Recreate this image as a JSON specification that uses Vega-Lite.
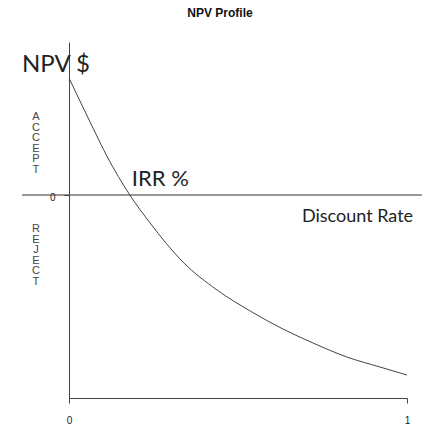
{
  "$schema": "https://vega.github.io/schema/vega-lite/v6.json",
  "width": 338,
  "height": 356,
  "autosize": "none",
  "padding": {"left": 69, "top": 42, "right": 18, "bottom": 34},
  "background": "white",
  "title": {"text": "NPV Profile", "font": "Liberation Sans", "fontSize": 12, "fontWeight": "bold", "color": "#111", "anchor": "middle", "dx": -18, "offset": 22},
  "config": {"view": {"stroke": null}},
  "datasets": {
    "curve": [
      {"rate": 0.0, "npv": 117},
      {"rate": 0.071, "npv": 67},
      {"rate": 0.112, "npv": 39},
      {"rate": 0.18, "npv": 0},
      {"rate": 0.24, "npv": -28},
      {"rate": 0.337, "npv": -67},
      {"rate": 0.438, "npv": -95},
      {"rate": 0.536, "npv": -116},
      {"rate": 0.633, "npv": -134},
      {"rate": 0.722, "npv": -148},
      {"rate": 0.822, "npv": -162},
      {"rate": 0.92, "npv": -172},
      {"rate": 1.0, "npv": -180}
    ],
    "zero": [{"x1": -0.139, "x2": 1.044, "y": 0}],
    "big": [{"x": 0, "y": 153, "label": "NPV $"}],
    "irr": [{"x": 0.186, "y": 9, "label": "IRR %"}],
    "dr": [{"x": 1.018, "y": -27, "label": "Discount Rate"}],
    "side": [
      {"x": -0.098, "y": 84, "label": "A\nC\nC\nE\nP\nT"},
      {"x": -0.098, "y": -28, "label": "R\nE\nJ\nE\nC\nT"}
    ]
  },
  "layer": [
    {
      "data": {"name": "curve"},
      "mark": {"type": "line", "interpolate": "monotone", "color": "#444", "strokeWidth": 1},
      "encoding": {
        "x": {"field": "rate", "type": "quantitative", "scale": {"domain": [0, 1], "nice": false, "zero": false},
              "axis": {"values": [0, 1], "title": null, "grid": false, "domainColor": "#444", "tickColor": "#444", "tickSize": 5, "labelPadding": 12, "labelFont": "Liberation Sans", "labelFontSize": 10, "labelColor": "#222", "format": "d", "labelFlush": false}},
        "y": {"field": "npv", "type": "quantitative", "scale": {"domain": [-203, 153], "nice": false, "zero": false},
              "axis": {"values": [0], "title": null, "grid": false, "domainColor": "#444", "tickColor": "#444", "tickSize": 5, "labelPadding": 9, "labelFont": "Liberation Sans", "labelFontSize": 10, "labelColor": "#222", "format": "d", "labelBaseline": "middle", "labelOffset": 2, "labelFlush": false}}
      }
    },
    {
      "data": {"name": "zero"},
      "mark": {"type": "rule", "color": "#333", "strokeWidth": 1},
      "encoding": {
        "x": {"field": "x1", "type": "quantitative"},
        "x2": {"field": "x2"},
        "y": {"field": "y", "type": "quantitative"}
      }
    },
    {
      "data": {"name": "big"},
      "mark": {"type": "text", "font": "Lato", "fontSize": 24, "color": "#222", "align": "center", "baseline": "alphabetic", "dx": -13, "dy": 30},
      "encoding": {
        "x": {"field": "x", "type": "quantitative"},
        "y": {"field": "y", "type": "quantitative"},
        "text": {"field": "label"}
      }
    },
    {
      "data": {"name": "irr"},
      "mark": {"type": "text", "font": "Lato", "fontSize": 22, "color": "#222", "align": "left", "baseline": "alphabetic"},
      "encoding": {
        "x": {"field": "x", "type": "quantitative"},
        "y": {"field": "y", "type": "quantitative"},
        "text": {"field": "label"}
      }
    },
    {
      "data": {"name": "dr"},
      "mark": {"type": "text", "font": "Lato", "fontSize": 18, "color": "#222", "align": "right", "baseline": "alphabetic"},
      "encoding": {
        "x": {"field": "x", "type": "quantitative"},
        "y": {"field": "y", "type": "quantitative"},
        "text": {"field": "label"}
      }
    },
    {
      "data": {"name": "side"},
      "mark": {"type": "text", "font": "Liberation Sans", "fontSize": 11, "color": "#444", "align": "center", "baseline": "top", "lineBreak": "\n", "lineHeight": 10.5},
      "encoding": {
        "x": {"field": "x", "type": "quantitative"},
        "y": {"field": "y", "type": "quantitative"},
        "text": {"field": "label"}
      }
    }
  ]
}
